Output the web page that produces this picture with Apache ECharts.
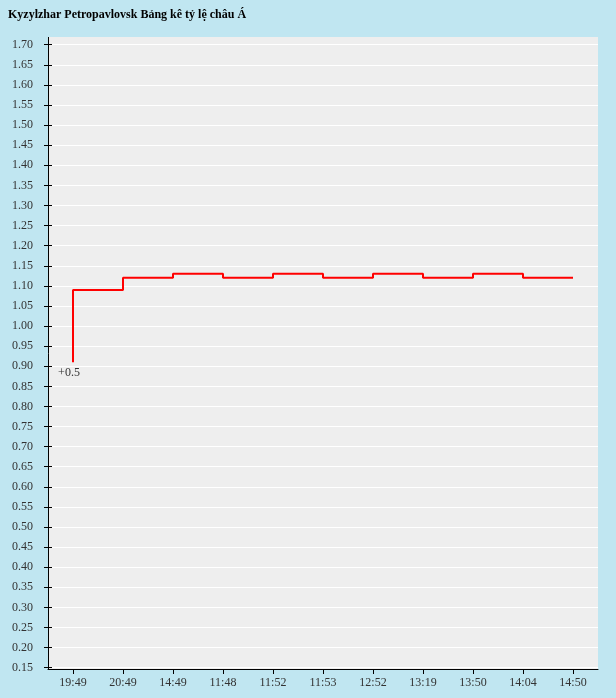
<!DOCTYPE html>
<html><head><meta charset="utf-8">
<script src="https://cdn.jsdelivr.net/npm/echarts@6/dist/echarts.min.js"></script>
<style>html,body{margin:0;padding:0;background:#c0e6f1;}#c{width:616px;height:698px;}</style>
</head><body><div id="c"></div>
<script>
const titleText = 'Kyzylzhar Petropavlovsk Bảng kê tỷ lệ châu Á';
const categories = ['19:49','20:49','14:49','11:48','11:52','11:53','12:52','13:19','13:50','14:04','14:50'];
const values = [0.91, 1.09, 1.12, 1.13, 1.12, 1.13, 1.12, 1.13, 1.12, 1.13, 1.12];
const startLabel = '+0.5';
const yMin = 0.15, yMax = 1.70, yStep = 0.05;

const chart = echarts.init(document.getElementById('c'));
const font = '"Liberation Serif", "DejaVu Serif", serif';
const seriesData = values.map((v, i) => i === 0 ? {
  value: v,
  label: {show: true, formatter: startLabel, position: 'bottom', distance: 1, offset: [-4, 4],
          fontFamily: font, fontSize: 12, color: '#333'}
} : {value: v});

chart.setOption({
  backgroundColor: '#c0e6f1',
  animation: false,
  title: {text: titleText, left: 3, top: 4,
    textStyle: {fontFamily: font, fontSize: 12, fontWeight: 'bold', color: '#000'}},
  graphic: [
    {type: 'rect', shape: {x: 48, y: 37, width: 550, height: 632}, style: {fill: '#eeeeee'}, z: -10, silent: true},
    {type: 'line', shape: {x1: 48.5, y1: 37, x2: 48.5, y2: 669.5}, style: {stroke: '#000', lineWidth: 1}, z: 10, silent: true}
  ],
  grid: {left: 48, right: 18, top: 44.7, bottom: 30.3},
  xAxis: {
    type: 'category', data: categories, boundaryGap: true, offset: 1.3,
    axisLine: {show: true, lineStyle: {color: '#000', width: 1}},
    axisTick: {show: true, alignWithLabel: true, length: 5, lineStyle: {color: '#000'}},
    axisLabel: {fontFamily: font, fontSize: 12, color: '#333', margin: 8},
    splitLine: {show: false}
  },
  yAxis: [{
    type: 'value', min: yMin, max: yMax, interval: yStep,
    axisLine: {show: false},
    axisTick: {show: true, length: 4, lineStyle: {color: '#000'}},
    axisLabel: {fontFamily: font, fontSize: 12, color: '#333', margin: 15,
      formatter: v => v.toFixed(2)},
    splitLine: {show: true, lineStyle: {color: '#ffffff', width: 1}}
  }, {
    type: 'value', min: yMin, max: yMax, interval: yStep, position: 'left',
    axisLine: {show: false},
    axisTick: {show: true, inside: true, length: 4, lineStyle: {color: '#000'}},
    axisLabel: {show: false},
    splitLine: {show: false}
  }],
  series: [{
    type: 'line', step: 'start', data: seriesData, showSymbol: true, symbol: 'circle', symbolSize: 0,
    lineStyle: {color: '#ff0000', width: 2}, itemStyle: {color: '#ff0000'}
  }]
});
</script></body></html>
